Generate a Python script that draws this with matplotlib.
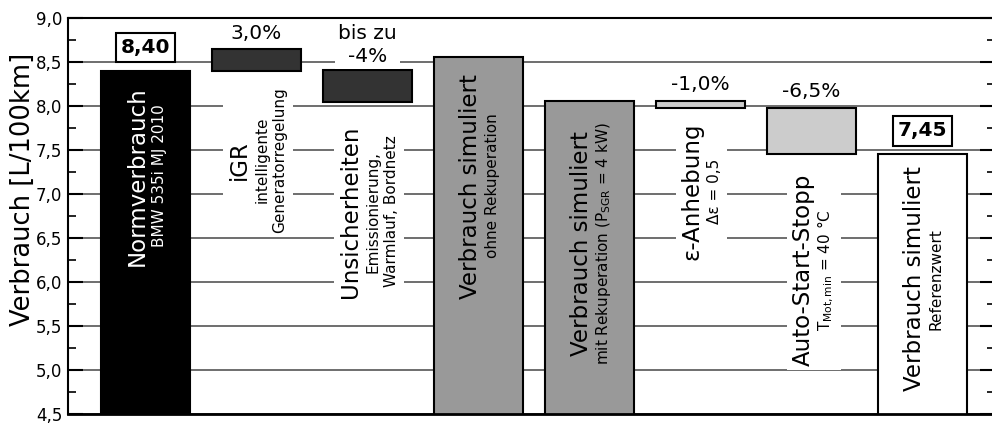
import matplotlib
matplotlib.use("Agg")
import matplotlib.pyplot as plt
import matplotlib.ticker as mtick
import matplotlib.patches as mpatches
import matplotlib.transforms as mtrans

plt.rcParams['font.family'] = ['DejaVu Sans']
plt.rcParams['mathtext.fontset'] = 'dejavusans'

# Daten (Verbrauch in L/100km)
bar_bottoms = [0.0, 8.40, 8.05, 0.0, 0.0, 7.98, 7.45, 0.0]
bar_tops = [8.40, 8.65, 8.41, 8.56, 8.06, 8.06, 7.98, 7.45]
bar_colors = ['#000000', '#333333', '#333333', '#999999', '#999999', '#cccccc', '#cccccc', '#ffffff']
main_labels = ['Normverbrauch', 'iGR', 'Unsicherheiten', 'Verbrauch simuliert',
               'Verbrauch simuliert', 'ε-Anhebung', 'Auto-Start-Stopp', 'Verbrauch simuliert']
sub_labels = [['BMW 535i MJ 2010'],
              ['intelligente', 'Generatorregelung'],
              ['Emissionierung,', 'Warmlauf, Bordnetz'],
              ['ohne Rekuperation'],
              [r'mit Rekuperation ($\mathregular{P_{SGR}}$ = 4 kW)'],
              ['Δε = 0,5'],
              [r'$\mathregular{T_{Mot,min}}$ = 40 °C'],
              ['Referenzwert']]
value_texts = ['8,40', '3,0%', 'bis zu\n-4%', None, None, '-1,0%', '-6,5%', '7,45']
value_boxed = [True, False, False, False, False, False, False, True]

# Layout
label_y = [7.205, 7.386, 6.80, 7.09, 6.44, 7.034, 6.136, 6.034]
value_y = [8.665, 8.82, 8.69, None, None, 8.25, 8.17, 7.716]
label_bg = [False, True, True, False, False, True, True, False]

fig = plt.figure(figsize=(9.92, 4.23), dpi=100)
ax = fig.add_axes([68/992, 9/423, 927/992, 396/423])

xs = list(range(len(bar_tops)))
heights = [t - b for t, b in zip(bar_tops, bar_bottoms)]
ax.bar(xs, heights, bottom=bar_bottoms, width=0.8, color=bar_colors,
       edgecolor='black', linewidth=1.5, zorder=2)

ax.set_xlim(-0.698, 7.653)
ax.set_ylim(4.5, 9.0)
ax.set_xticks([])
ax.yaxis.set_major_locator(mtick.MultipleLocator(0.5))
ax.yaxis.set_minor_locator(mtick.MultipleLocator(0.25))
ax.yaxis.set_major_formatter(mtick.FuncFormatter(lambda v, p: ('%.1f' % v).replace('.', ',')))
ax.tick_params(axis='y', which='major', direction='in', length=11, width=1.5,
               left=True, right=True, labelsize=12, pad=4)
ax.tick_params(axis='y', which='minor', direction='in', length=5.5, width=1.2,
               left=True, right=True)
ax.yaxis.grid(True, which='major', color='#555555', linewidth=1.2)
ax.set_axisbelow(True)
for s in ['left', 'top']:
    ax.spines[s].set_linewidth(1.5)
ax.spines['bottom'].set_linewidth(2)
ax.spines['right'].set_visible(False)

ax.set_ylabel('Verbrauch [L/100km]', fontsize=18.5)
ax.yaxis.set_label_coords(-0.0345, 0.566)

# Beschriftungen in/zwischen den Balken
groups = []
for i, main in enumerate(main_labels):
    subs = sub_labels[i]
    if len(subs) == 1:
        offs = [-6, 10]
    else:
        offs = [-12, 4, 17]
    col = 'white' if bar_colors[i] == '#000000' else 'black'
    texts = [ax.annotate(main, xy=(i, label_y[i]), xytext=(offs[0], 0), textcoords='offset points',
                         rotation=90, ha='center', va='center', fontsize=16.5, color=col, zorder=4)]
    for k, s in enumerate(subs):
        texts.append(ax.annotate(s, xy=(i, label_y[i]), xytext=(offs[k + 1], 0), textcoords='offset points',
                                 rotation=90, ha='center', va='center', fontsize=11, color=col, zorder=4))
    groups.append(texts)

    if value_texts[i] is not None:
        if value_boxed[i]:
            ax.text(i, value_y[i], value_texts[i], ha='center', va='center', fontsize=14.5,
                    fontweight='bold', zorder=4,
                    bbox=dict(boxstyle='square,pad=0.25', facecolor='white', edgecolor='black', linewidth=1.5))
        else:
            ax.text(i, value_y[i], value_texts[i], ha='center', va='center', fontsize=14.5,
                    linespacing=1.25, zorder=4,
                    bbox=dict(boxstyle='square,pad=0.15', facecolor='white', edgecolor='none'))

fig.canvas.draw()
renderer = fig.canvas.get_renderer()
for i, texts in enumerate(groups):
    if not label_bg[i]:
        continue
    bb = mtrans.Bbox.union([t.get_window_extent(renderer) for t in texts])
    rect = mpatches.Rectangle((bb.x0 - 5, bb.y0 - 4), bb.width + 10, bb.height + 8,
                              transform=mtrans.IdentityTransform(), facecolor='white',
                              edgecolor='none', zorder=1.5)
    ax.add_patch(rect)

fig.savefig('out.png', dpi=100)
